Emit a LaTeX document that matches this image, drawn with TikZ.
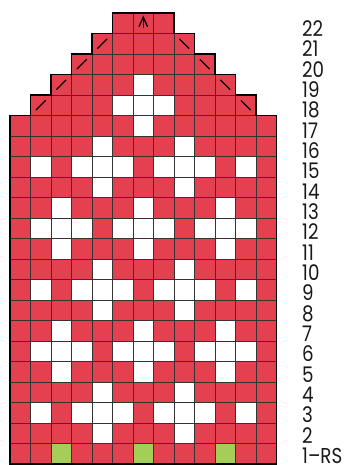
\documentclass[tikz,border=0pt]{standalone}
\usepackage{fontspec}
\newfontfamily\labfont{Poppins}[FakeStretch=0.85]
\definecolor{chartred}{HTML}{E5404F}
\definecolor{chartgreen}{HTML}{A5CD5A}
\definecolor{gridgray}{HTML}{333333}
\tikzset{
  gridline/.style={draw=gridgray, line width=0.8pt},
  outline/.style={draw=black, line width=1.4pt, line join=miter},
  markline/.style={draw=black, line width=1.3pt, line cap=round},
  rowlabel/.style={anchor=base west, inner sep=0pt, font=\labfont\fontsize{21.5}{21.5}\selectfont, text=black!90}
}
\begin{document}
\begin{tikzpicture}[x=1pt,y=1pt]
\useasboundingbox (0,0) rectangle (352,465);
\fill[white] (0,0) rectangle (352,465);
\begin{scope}[shift={(10,1)}, x=20.5pt, y=20.5pt]
  % red background of the chart shape
  \fill[chartred] (0,0) -- (13,0) -- (13,17) -- (12,17) -- (12,18) -- (11,18) -- (11,19) -- (10,19) -- (10,20) -- (9,20) -- (9,21) -- (8,21) -- (8,22) -- (5,22) -- (5,21) -- (4,21) -- (4,20) -- (3,20) -- (3,19) -- (2,19) -- (2,18) -- (1,18) -- (1,17) -- (0,17) -- cycle;
  % white cells
  \foreach \r/\cs in {2/{5,9}, 3/{2,4,5,6,8,9,10,12}, 4/{5,9}, 5/{3,7,11}, 6/{2,3,4,6,7,8,10,11,12}, 7/{3,7,11}, 8/{5,9}, 9/{2,4,5,6,8,9,10,12}, 10/{5,9}, 11/{3,7,11}, 12/{2,3,4,6,7,8,10,11,12}, 13/{3,7,11}, 14/{5,9}, 15/{2,4,5,6,8,9,10,12}, 16/{5,9}, 17/{7}, 18/{6,7,8}, 19/{7}}{
    \foreach \c in \cs { \fill[white] (\c-1,\r-1) rectangle (\c,\r); }
  }
  % green cells
  \foreach \c in {3,7,11} { \fill[chartgreen] (\c-1,0) rectangle (\c,1); }
  % grid lines
  \foreach \r/\a/\b in {1/1/13,2/1/13,3/1/13,4/1/13,5/1/13,6/1/13,7/1/13,8/1/13,9/1/13,10/1/13,11/1/13,12/1/13,13/1/13,14/1/13,15/1/13,16/1/13,17/1/13,18/2/12,19/3/11,20/4/10,21/5/9,22/6/8}{
    \foreach \c in {\a,...,\b} { \draw[gridline] (\c-1,\r-1) rectangle (\c,\r); }
  }
  % outline
  \draw[outline] (0,0) -- (13,0) -- (13,17) -- (12,17) -- (12,18) -- (11,18) -- (11,19) -- (10,19) -- (10,20) -- (9,20) -- (9,21) -- (8,21) -- (8,22) -- (5,22) -- (5,21) -- (4,21) -- (4,20) -- (3,20) -- (3,19) -- (2,19) -- (2,18) -- (1,18) -- (1,17) -- (0,17) -- cycle;
  % decrease marks
  \foreach \c/\r in {5/21,4/20,3/19,2/18} { \draw[markline] (\c-0.73,\r-0.73) -- (\c-0.27,\r-0.27); }
  \foreach \c/\r in {9/21,10/20,11/19,12/18} { \draw[markline] (\c-0.73,\r-0.27) -- (\c-0.27,\r-0.73); }
  % central double decrease symbol
  \draw[markline, line join=miter] (6.3,21.35) -- (6.5,21.8) -- (6.7,21.35);
  \draw[markline] (6.5,21.3) -- (6.5,21.8);
\end{scope}
% row labels (baseline at reference digit bottom)
\foreach \i in {2,...,22} {
  \node[rowlabel] (lab\i) at (302, {465-36.5-(22-\i)*20.33}) {\i};
}
\node[rowlabel] (lab1) at (302, {465-36.5-21*20.33}) {1–RS};
\end{tikzpicture}
\end{document}
